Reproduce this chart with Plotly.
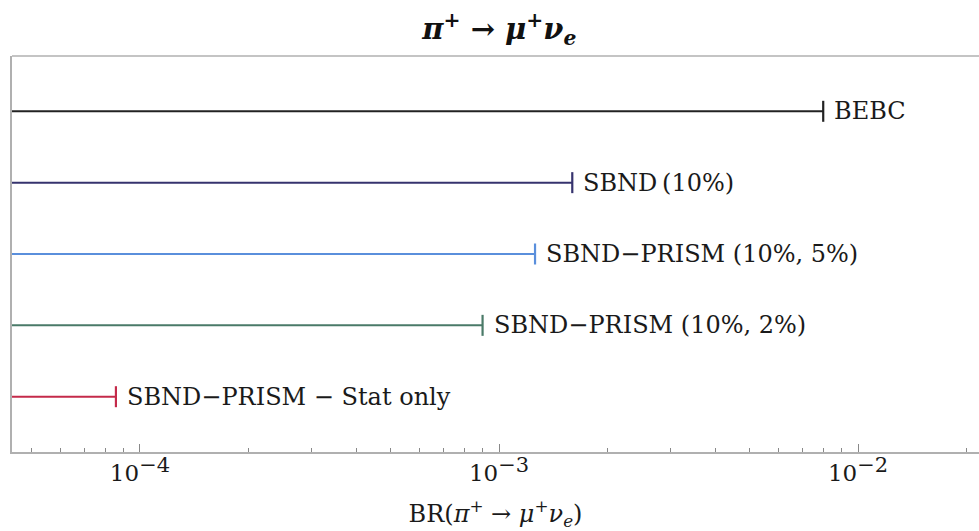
import plotly.graph_objects as go
import math

labels = ["SBND\u2212PRISM \u2212 Stat only", "SBND\u2212PRISM (10%, 2%)",
          "SBND\u2212PRISM (10%, 5%)", "SBND\u2009(10%)", "BEBC"]
limits = [8.57e-5, 9.0e-4, 1.26e-3, 1.6e-3, 8.0e-3]
colors = ["#c42a4a", "#4a7a68", "#5a8fdc", "#36336e", "#222222"]

xmin, xmax = 10 ** -4.3565, 10 ** -1.663
major_ticks = [1e-4, 1e-3, 1e-2]
major_text = ['10<sup><span style="font-size:21px">\u22124</span></sup>',
              '10<sup><span style="font-size:21px">\u22123</span></sup>',
              '10<sup><span style="font-size:21px">\u22122</span></sup>']
minor_ticks = [m * 10 ** e for e in (-5, -4, -3, -2) for m in range(2, 10)]

serif = "DejaVu Serif"
fig = go.Figure()
for i, (lab, v, c) in enumerate(zip(labels, limits, colors)):
    fig.add_trace(go.Scatter(
        x=[xmin * 0.5, v], y=[i, i], mode="lines",
        line=dict(color=c, width=2), showlegend=False, hoverinfo="skip"))
    fig.add_trace(go.Scatter(
        x=[v], y=[i], mode="markers",
        marker=dict(symbol="line-ns", size=15, line=dict(color=c, width=2.2)),
        showlegend=False, hoverinfo="skip"))
    fig.add_annotation(x=math.log10(v), y=i, text=lab, showarrow=False,
                       xanchor="left", yanchor="middle", xshift=9,
                       font=dict(family=serif, size=24, color="#1a1a1a"))

fig.add_shape(type="line", xref="paper", yref="paper", x0=0, x1=1, y0=1, y1=1,
              line=dict(color="#b0b0b0", width=1.5))

fig.update_layout(
    width=979, height=531,
    margin=dict(l=12, r=0, t=56, b=79),
    plot_bgcolor="white", paper_bgcolor="white",
    title=dict(text="<b><i>\u03c0<sup>+</sup> \u2192 \u03bc<sup>+</sup>\u03bd<sub>e</sub></i></b>",
               x=0.51, xanchor="center", y=0.945, yanchor="middle",
               font=dict(family=serif, size=29, color="#111111")),
    xaxis=dict(type="log", range=[math.log10(xmin), math.log10(xmax)],
               showgrid=False, zeroline=False, showline=True,
               linecolor="#b0b0b0", linewidth=1.5,
               tickmode="array", tickvals=major_ticks, ticktext=major_text,
               ticks="inside", ticklen=8, tickwidth=1, tickcolor="#888888",
               tickfont=dict(family=serif, size=23, color="#1a1a1a"),
               minor=dict(tickvals=minor_ticks, ticks="inside", ticklen=4,
                          tickwidth=1, tickcolor="#888888", showgrid=False),
               title=dict(text="BR(<i>\u03c0</i><sup>+</sup> \u2192 <i>\u03bc</i><sup>+</sup><i>\u03bd</i><sub><i>e</i></sub>)",
                          font=dict(family=serif, size=24, color="#1a1a1a"),
                          standoff=20)),
    yaxis=dict(range=[-0.775, 4.775], showgrid=False, zeroline=False,
               showline=True, linecolor="#b0b0b0", linewidth=1.5,
               showticklabels=False, ticks=""),
)

fig.write_html("out.html")
